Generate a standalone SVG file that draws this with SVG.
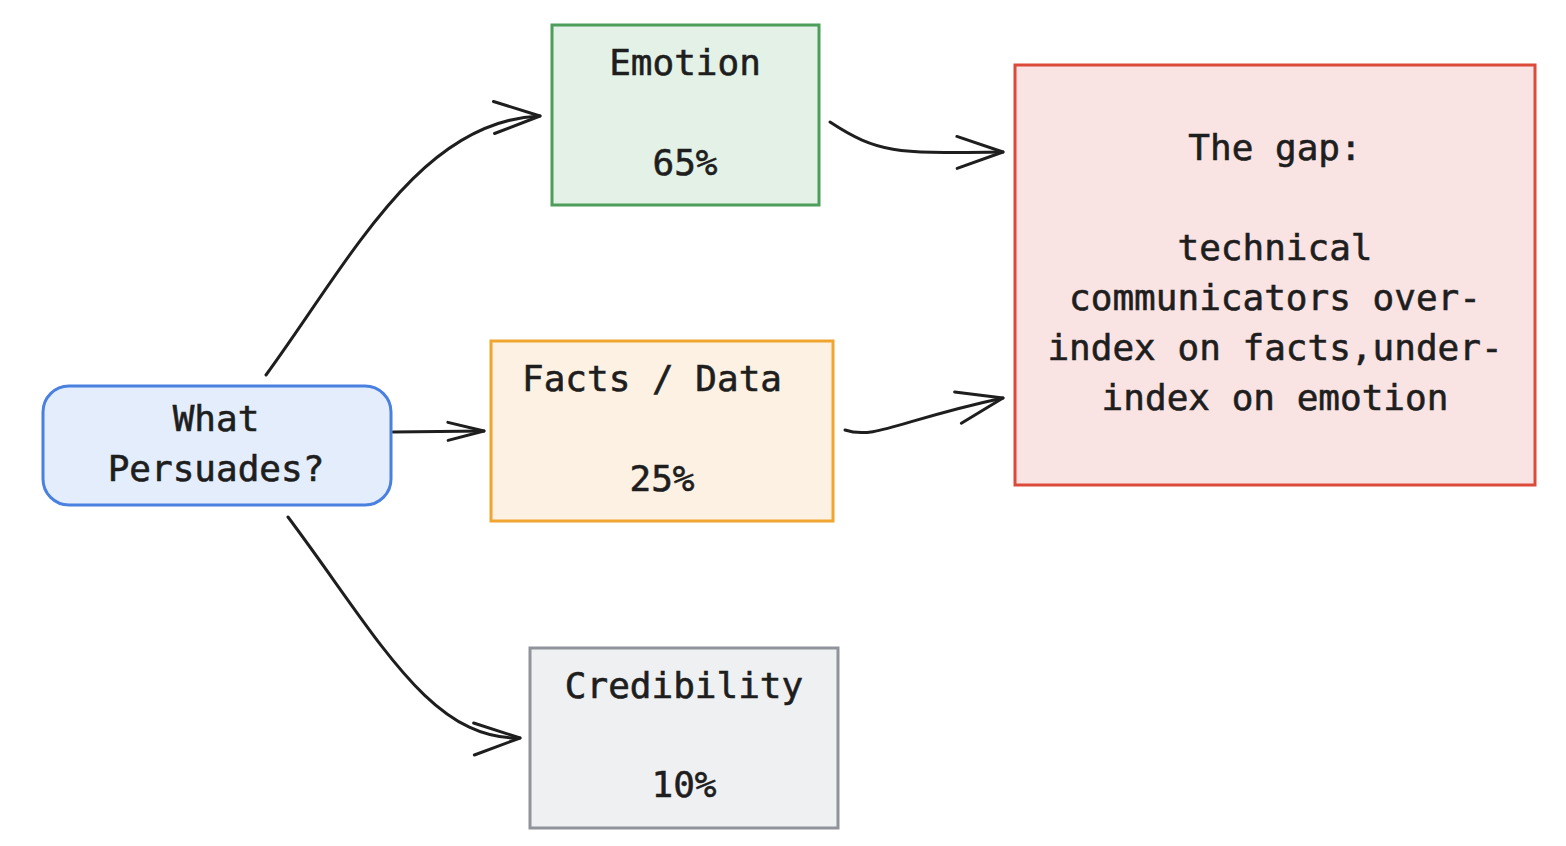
<svg xmlns="http://www.w3.org/2000/svg" width="1566" height="846" viewBox="0 0 1566 846">
<style>
text{font-family:"DejaVu Sans Mono","Liberation Mono",monospace;font-size:36px;fill:#1e1e1e;stroke:#1e1e1e;stroke-width:0.6;text-anchor:middle}
.c{fill:none;stroke:#1e1e1e;stroke-width:3;stroke-linecap:round}
</style>
<defs>
<marker id="ah" viewBox="-50 -20 54 40" refX="0" refY="0" markerWidth="54" markerHeight="40" markerUnits="userSpaceOnUse" orient="auto">
<path d="M-46,-16 L0,0 L-46,16" fill="none" stroke="#1e1e1e" stroke-width="3" stroke-linecap="round" stroke-linejoin="round"/>
</marker>
<marker id="ahs" viewBox="-40 -12 44 24" refX="0" refY="0" markerWidth="44" markerHeight="24" markerUnits="userSpaceOnUse" orient="auto">
<path d="M-36,-9 L0,0 L-36,9" fill="none" stroke="#1e1e1e" stroke-width="3" stroke-linecap="round" stroke-linejoin="round"/>
</marker>
</defs>
<rect width="1566" height="846" fill="#fff"/>
<g id="connectors">
<path class="c" d="M266,375 C350,260 420,120 540,116" marker-end="url(#ah)"/>
<path class="c" d="M393,432 L484,431" marker-end="url(#ahs)"/>
<path class="c" d="M830,122 C880,155 900,153 1003,152" marker-end="url(#ah)"/>
<path class="c" d="M845,430 C875,440 900,420 1003,398" marker-end="url(#ah)"/>
<path class="c" d="M288,517 C380,640 430,740 520,738" marker-end="url(#ah)"/>
</g>
<g id="what">
<rect x="43" y="386" width="348" height="119" rx="26" fill="#e3edfc" stroke="#4a80e0" stroke-width="3"/>
<text x="216" y="431">What</text>
<text x="216" y="481">Persuades?</text>
</g>
<g id="emotion">
<rect x="552" y="25" width="267" height="180" fill="#e3f1e6" stroke="#4c9e5a" stroke-width="3"/>
<text x="685" y="75">Emotion</text>
<text x="685" y="175">65%</text>
</g>
<g id="facts">
<rect x="491" y="341" width="342" height="180" fill="#fdf1e3" stroke="#f0a530" stroke-width="3"/>
<text x="652" y="391">Facts / Data</text>
<text x="662" y="491">25%</text>
</g>
<g id="credibility">
<rect x="530" y="648" width="308" height="180" fill="#eff0f2" stroke="#909399" stroke-width="3"/>
<text x="684" y="698">Credibility</text>
<text x="684" y="797">10%</text>
</g>
<g id="gap">
<rect x="1015" y="65" width="520" height="420" fill="#f9e3e3" stroke="#dc4a3a" stroke-width="3"/>
<text x="1275" y="160">The gap:</text>
<text x="1275" y="260">technical</text>
<text x="1275" y="310">communicators over-</text>
<text x="1275" y="360">index on facts,under-</text>
<text x="1275" y="410">index on emotion</text>
</g>
</svg>
